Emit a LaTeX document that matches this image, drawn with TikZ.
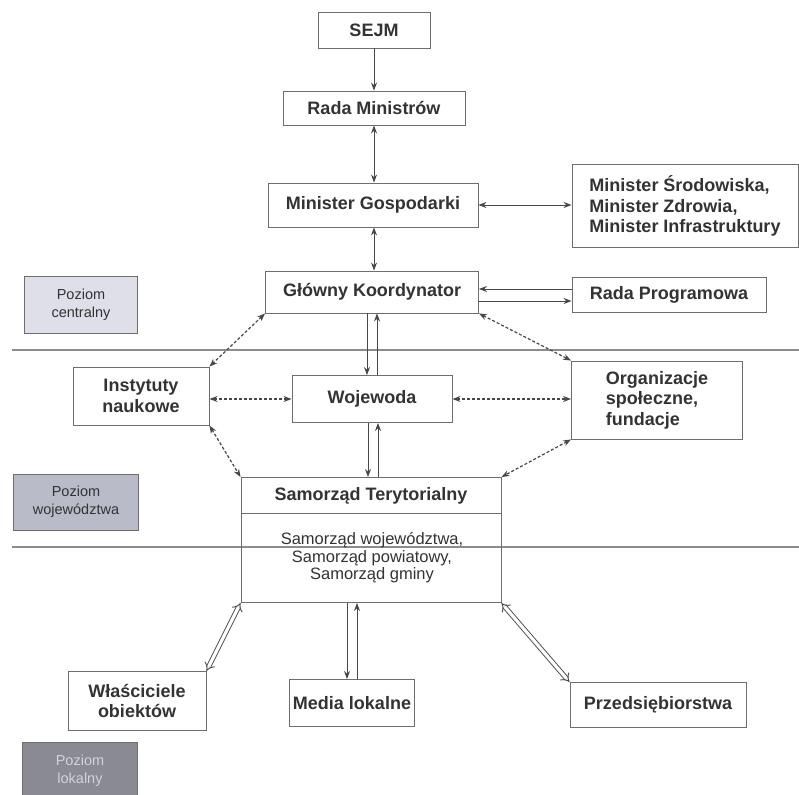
\documentclass[tikz,border=0pt]{standalone}
\usepackage{fontspec}
\setmainfont{Liberation Sans}
\usetikzlibrary{arrows.meta}
\definecolor{ln}{HTML}{474747}
\definecolor{bd}{HTML}{6E6E6E}
\definecolor{tx}{HTML}{333333}
\definecolor{sepc}{HTML}{8C8C8C}
\definecolor{fillA}{HTML}{DEDFE8}
\definecolor{fillB}{HTML}{B9BCC8}
\definecolor{fillC}{HTML}{8A8B92}
\definecolor{txC}{HTML}{D2D3DA}
\begin{document}
\begin{tikzpicture}[x=1pt,y=-1pt,
  box/.style={draw=bd, line width=0.9pt, inner sep=0pt, text=tx, align=center,
    font=\fontsize{18}{20.5}\selectfont\bfseries},
  lvl/.style={draw=bd, line width=0.9pt, inner sep=0pt, text=tx, align=center,
    font=\fontsize{14.5}{18}\selectfont},
  tip/.tip={Stealth[length=8pt,width=6pt]},
  arr/.style={draw=ln, line width=0.9pt, -tip},
  darr/.style={draw=ln, line width=0.9pt, tip-tip},
  dsh/.style={darr, line width=1.2pt, dash pattern=on 3pt off 2pt},
  dbl/.style={draw=ln, line width=0.9pt, double=white, double distance=3.2pt, {Implies}-{Implies}},
  sepl/.style={draw=sepc, line width=1.6pt}
]
\useasboundingbox (0,0) rectangle (799,794);
\fill[white] (0,0) rectangle (799,794);

% level labels
\node[lvl, fill=fillA, minimum width=113pt, minimum height=57pt] (pc) at (81,305) {Poziom\\centralny};
\node[lvl, fill=fillB, minimum width=125pt, minimum height=56pt] (pw) at (76,502) {Poziom\\województwa};
\node[lvl, fill=fillC, text=txC, minimum width=115pt, minimum height=58pt] (pl) at (80,771) {Poziom\\lokalny};

% separators
\draw[sepl] (12,350) -- (799,350);
\draw[sepl] (12,547) -- (799,547);

% boxes
\node[box, minimum width=112pt, minimum height=36pt] (sejm) at (374,30) {SEJM};
\node[box, minimum width=182pt, minimum height=34pt] (rm) at (374,108) {Rada Ministrów};
\node[box, minimum width=210pt, minimum height=44pt] (mg) at (373,205) {Minister Gospodarki};
\node[box, minimum width=226pt, minimum height=83pt, align=left] (ms) at (685,206)
  {Minister Środowiska,\\Minister Zdrowia,\\Minister Infrastruktury};
\node[box, minimum width=213pt, minimum height=42pt] (gk) at (372,292) {Główny Koordynator};
\node[box, minimum width=194pt, minimum height=35pt] (rp) at (669,295) {Rada Programowa};
\node[box, minimum width=136pt, minimum height=58pt] (in) at (141,396) {Instytuty\\naukowe};
\node[box, minimum width=160pt, minimum height=47pt] (woj) at (372,399) {Wojewoda};
\node[box, minimum width=171pt, minimum height=78pt, align=left] (org) at (657,400)
  {Organizacje\\społeczne,\\fundacje};
\node[box, minimum width=260pt, minimum height=125pt] (sam) at (371,540) {};
\draw[draw=bd, line width=0.9pt] (sam.west |- 0,513) -- (sam.east |- 0,513);
\node[text=tx, font=\fontsize{18}{20}\selectfont\bfseries] (samt) at (371,496) {Samorząd Terytorialny};
\node[text=tx, align=center, font=\fontsize{16.5}{17.5}\selectfont] (sams) at (372,558)
  {Samorząd województwa,\\Samorząd powiatowy,\\Samorząd gminy};
\node[box, minimum width=138pt, minimum height=59pt] (wl) at (137,701) {Właściciele\\obiektów};
\node[box, minimum width=125pt, minimum height=47pt] (med) at (352,703) {Media lokalne};
\node[box, minimum width=176pt, minimum height=45pt] (prz) at (658,705) {Przedsiębiorstwa};

% connectors
\draw[arr] (sejm.south) -- (rm.north);
\draw[darr] (rm.south) -- (rm.south |- mg.north);
\draw[darr] (rm.south |- mg.south) -- (rm.south |- gk.north);
\draw[darr] (mg.east) -- (ms.west |- mg.east);
\draw[arr] ([yshift=6pt]rp.west) -- ([yshift=6pt]rp.west -| gk.east);
\draw[arr] ([yshift=-6pt]rp.west -| gk.east) -- ([yshift=-6pt]rp.west);
\draw[arr] ([xshift=-5pt]gk.south) -- ([xshift=-5pt]woj.north);
\draw[arr] ([xshift=5pt]woj.north) -- ([xshift=5pt]gk.south);
\draw[arr] ([xshift=-4pt]woj.south) -- ([xshift=-4pt]woj.south |- sam.north);
\draw[arr] ([xshift=6pt]woj.south |- sam.north) -- ([xshift=6pt]woj.south);
\draw[arr] ([xshift=-5pt]med.north |- sam.south) -- ([xshift=-5pt]med.north);
\draw[arr] ([xshift=5pt]med.north) -- ([xshift=5pt]med.north |- sam.south);

\draw[dsh] (gk.south west) -- (in.north east);
\draw[dsh] (gk.south east) -- (org.north west);
\draw[dsh] (in.east |- woj.west) -- (woj.west);
\draw[dsh] (woj.east) -- (org.west |- woj.east);
\draw[dsh] (in.south east) -- (sam.north west);
\draw[dsh] (org.south west) -- (sam.north east);

\draw[dbl] (sam.south west) -- (wl.north east);
\draw[dbl] (sam.south east) -- (prz.north west);
\end{tikzpicture}
\end{document}
